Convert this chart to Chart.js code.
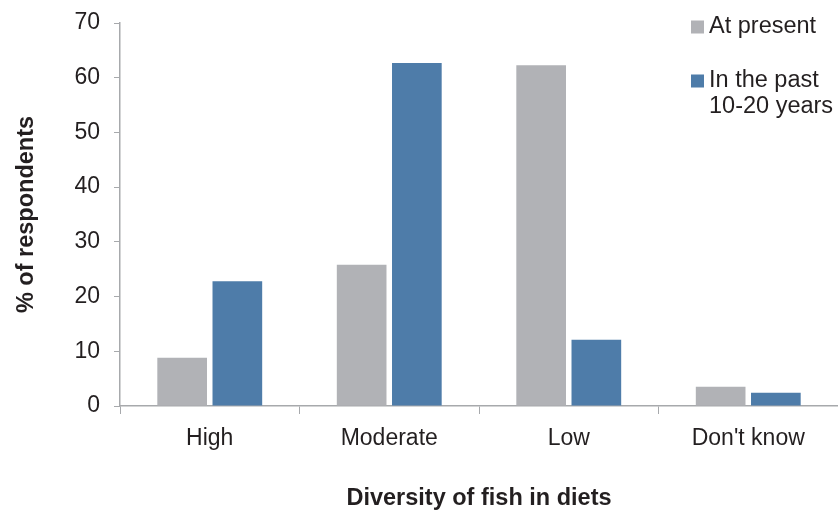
<!DOCTYPE html>
<html>
<head>
<meta charset="utf-8">
<script src="https://cdn.jsdelivr.net/npm/chart.js@4/dist/chart.umd.min.js"></script>
<style>
  html, body { margin: 0; padding: 0; background: #fff; }
  #wrap { width: 838px; height: 510px; position: relative; }
</style>
</head>
<body>
<div id="wrap"><canvas id="c" width="838" height="510"></canvas></div>
<script>
// Diversity of fish in diets, % of respondents
const categories = ["High", "Moderate", "Low", "Don't know"];
const atPresent = [8.8, 25.8, 62.3, 3.5];
const pastYears = [22.8, 62.7, 12.1, 2.4];
const seriesNames = ["At present", ["In the past", "10-20 years"]];
const yTicks = [0, 10, 20, 30, 40, 50, 60, 70];

const FONT = "'Liberation Sans', Arial, sans-serif";
const TEXT = "#231f20";
const AXIS = "#a7a9ac";

// Legend drawn inside the plot's upper-right corner
const cornerLegend = {
  id: "cornerLegend",
  afterDraw(chart) {
    const ctx = chart.ctx;
    ctx.save();
    ctx.font = "23.5px " + FONT;
    ctx.textBaseline = "middle";
    const x = 691, rows = [27, 81];
    chart.data.datasets.forEach((ds, i) => {
      const y = rows[i];
      ctx.fillStyle = ds.backgroundColor;
      ctx.fillRect(x, y - 6.5, 13, 13);
      ctx.fillStyle = TEXT;
      const lines = Array.isArray(ds.label) ? ds.label : [ds.label];
      lines.forEach((t, k) => ctx.fillText(t, x + 18, y + k * 26));
    });
    ctx.restore();
  }
};

new Chart(document.getElementById("c"), {
  type: "bar",
  data: {
    labels: categories,
    datasets: [
      { label: seriesNames[0], data: atPresent, backgroundColor: "#b1b2b6" },
      { label: seriesNames[1], data: pastYears, backgroundColor: "#4e7ca9" }
    ]
  },
  options: {
    responsive: false,
    animation: false,
    devicePixelRatio: 1,
    layout: { padding: { top: 23, right: 0, left: 0, bottom: 0 } },
    datasets: { bar: { categoryPercentage: 0.615, barPercentage: 0.9 } },
    plugins: { legend: { display: false }, tooltip: { enabled: false } },
    scales: {
      x: {
        offset: true,
        border: { color: AXIS, width: 1.5 },
        grid: { display: true, drawOnChartArea: false, color: AXIS, tickLength: 8, offset: true },
        ticks: { color: TEXT, font: { family: FONT, size: 23 }, padding: 11, maxRotation: 0 },
        title: {
          display: true, text: "Diversity of fish in diets", color: TEXT,
          font: { family: FONT, size: 23.5, weight: "bold", lineHeight: 1.0 }, padding: { top: 0, bottom: 0 }
        },
        afterFit(s) { s.height = 104; s.paddingRight = 0; }
      },
      y: {
        min: 0, max: 70,
        afterBuildTicks(s) { s.ticks = yTicks.map(v => ({ value: v })); },
        border: { color: AXIS, width: 1.5 },
        grid: { display: true, drawOnChartArea: false, color: AXIS, tickLength: 6 },
        ticks: { color: TEXT, font: { family: FONT, size: 23 }, padding: 14 },
        title: {
          display: true, text: "% of respondents", color: TEXT,
          font: { family: FONT, size: 23.5, weight: "bold" }, padding: { top: 12, bottom: 0 }
        },
        afterFit(s) { s.width = 120; s.paddingTop = 0; s.paddingBottom = 0; }
      }
    }
  },
  plugins: [cornerLegend]
});
</script>
</body>
</html>
